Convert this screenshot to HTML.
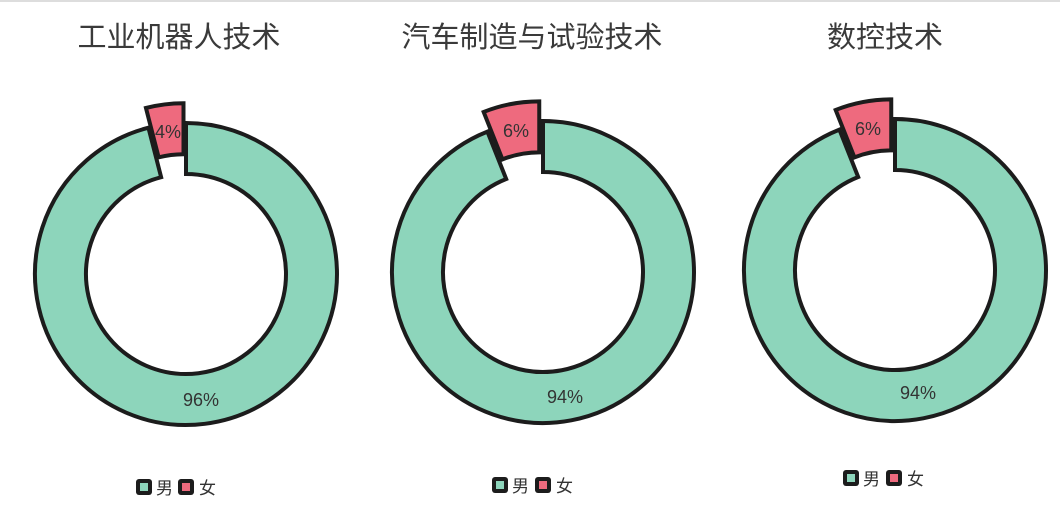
<!DOCTYPE html>
<html><head><meta charset="utf-8"><style>
html,body{margin:0;padding:0;background:#fff;}
body{width:1060px;height:516px;overflow:hidden;border-top:2px solid #ddd;box-sizing:border-box;}
svg text{font-family:"Liberation Sans","Noto Sans CJK SC",sans-serif;}
</style></head><body>
<svg width="1060" height="514" viewBox="0 2 1060 514" xmlns="http://www.w3.org/2000/svg">
<g font-size="29" fill="#3a3a3a" text-anchor="middle">
<text x="179" y="47">工业机器人技术</text>
<text x="532" y="47">汽车制造与试验技术</text>
<text x="885" y="47">数控技术</text>
</g>
<g stroke="#1c1c1c" stroke-width="4" stroke-linejoin="miter">
<path d="M186 123 A151 151 0 1 1 148.45 127.74 L161.13 177.14 A100 100 0 1 0 186 174 Z" fill="#8dd5bb"/>
<path d="M145.95 107.94 A151 151 0 0 1 183.5 103.2 L183.5 154.2 A100 100 0 0 0 158.63 157.34 Z" fill="#ee6a7e"/>
<path d="M543 121 A151 151 0 1 1 487.42 131.6 L506.19 179.02 A100 100 0 1 0 543 172 Z" fill="#8dd5bb"/>
<path d="M483.67 111.95 A151 151 0 0 1 539.25 101.35 L539.25 152.35 A100 100 0 0 0 502.44 159.37 Z" fill="#ee6a7e"/>
<path d="M895 119 A151 151 0 1 1 839.42 129.6 L858.19 177.02 A100 100 0 1 0 895 170 Z" fill="#8dd5bb"/>
<path d="M835.67 109.95 A151 151 0 0 1 891.25 99.35 L891.25 150.35 A100 100 0 0 0 854.44 157.37 Z" fill="#ee6a7e"/>
</g>
<g font-size="18" fill="#333" text-anchor="middle">
<text x="168" y="138">4%</text>
<text x="201" y="406">96%</text>
<text x="516" y="137">6%</text>
<text x="565" y="403">94%</text>
<text x="868" y="135">6%</text>
<text x="918" y="399">94%</text>
</g>
<g font-size="17" fill="#333">
<rect x="136" y="479" width="16" height="16" rx="3" fill="#1c1c1c"/><rect x="140" y="483" width="8" height="8" fill="#8dd5bb"/>
<text x="156" y="494">男</text>
<rect x="178" y="479" width="16" height="16" rx="3" fill="#1c1c1c"/><rect x="182" y="483" width="8" height="8" fill="#ee6a7e"/>
<text x="199" y="494">女</text>
<rect x="492" y="477" width="16" height="16" rx="3" fill="#1c1c1c"/><rect x="496" y="481" width="8" height="8" fill="#8dd5bb"/>
<text x="512" y="492">男</text>
<rect x="535" y="477" width="16" height="16" rx="3" fill="#1c1c1c"/><rect x="539" y="481" width="8" height="8" fill="#ee6a7e"/>
<text x="556" y="492">女</text>
<rect x="843" y="470" width="16" height="16" rx="3" fill="#1c1c1c"/><rect x="847" y="474" width="8" height="8" fill="#8dd5bb"/>
<text x="863" y="485">男</text>
<rect x="886" y="470" width="16" height="16" rx="3" fill="#1c1c1c"/><rect x="890" y="474" width="8" height="8" fill="#ee6a7e"/>
<text x="907" y="485">女</text>
</g>
</svg>
</body></html>
